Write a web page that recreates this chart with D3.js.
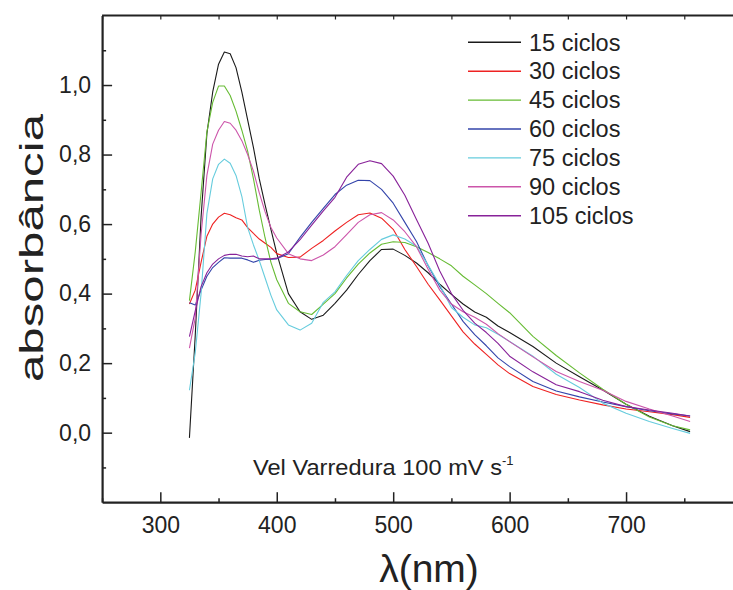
<!DOCTYPE html>
<html>
<head>
<meta charset="utf-8">
<script src="https://cdn.jsdelivr.net/npm/d3@7"></script>
<style>
  html, body { margin: 0; padding: 0; background: #fff; }
  svg { display: block; font-family: "Liberation Sans", Arial, Helvetica, sans-serif; }
</style>
</head>
<body>
<svg id="chart" width="733" height="590"></svg>
<script>
// ---- data ----
const wavelengths = [325,330,335,340,345,350,355,360,365,370,375,380,385,390,395,400,410,420,430,440,450,460,470,480,490,500,510,520,530,540,550,560,570,580,590,600,620,640,660,680,700,720,740,755];

const ciclos15  = [-0.015,0.28,0.62,0.86,0.98,1.06,1.095,1.09,1.05,0.98,0.90,0.82,0.73,0.655,0.585,0.516,0.40,0.348,0.326,0.338,0.372,0.41,0.455,0.495,0.527,0.528,0.51,0.488,0.46,0.427,0.398,0.37,0.347,0.332,0.307,0.288,0.248,0.200,0.161,0.123,0.082,0.047,0.02,0.003];
const ciclos30  = [0.37,0.41,0.49,0.565,0.60,0.62,0.631,0.627,0.618,0.612,0.59,0.573,0.557,0.545,0.533,0.515,0.504,0.505,0.53,0.553,0.58,0.605,0.627,0.632,0.617,0.585,0.527,0.478,0.427,0.382,0.336,0.29,0.255,0.225,0.195,0.17,0.133,0.11,0.094,0.08,0.068,0.06,0.052,0.044];
const ciclos45  = [0.38,0.52,0.69,0.865,0.95,0.997,0.997,0.97,0.925,0.87,0.81,0.73,0.64,0.56,0.49,0.44,0.372,0.348,0.34,0.37,0.40,0.445,0.485,0.517,0.542,0.549,0.547,0.535,0.518,0.50,0.48,0.45,0.425,0.40,0.372,0.345,0.277,0.222,0.172,0.125,0.082,0.045,0.02,0.008];
const ciclos60  = [0.374,0.367,0.41,0.45,0.475,0.49,0.503,0.502,0.502,0.502,0.497,0.49,0.496,0.498,0.499,0.50,0.515,0.562,0.605,0.645,0.685,0.712,0.726,0.725,0.70,0.66,0.605,0.55,0.48,0.42,0.37,0.32,0.282,0.25,0.215,0.19,0.147,0.12,0.103,0.088,0.075,0.063,0.054,0.048];
const ciclos75  = [0.122,0.23,0.40,0.63,0.73,0.772,0.787,0.775,0.74,0.68,0.59,0.54,0.495,0.445,0.395,0.353,0.31,0.295,0.315,0.375,0.405,0.452,0.495,0.527,0.556,0.569,0.557,0.536,0.482,0.425,0.36,0.332,0.31,0.302,0.283,0.262,0.22,0.168,0.13,0.085,0.056,0.032,0.012,-0.002];
const ciclos90  = [0.243,0.33,0.57,0.74,0.83,0.87,0.895,0.89,0.87,0.84,0.80,0.752,0.69,0.635,0.59,0.56,0.515,0.50,0.495,0.511,0.535,0.57,0.605,0.627,0.633,0.612,0.578,0.535,0.47,0.41,0.37,0.348,0.332,0.312,0.285,0.262,0.218,0.176,0.147,0.122,0.09,0.068,0.048,0.032];
const ciclos105 = [0.276,0.35,0.42,0.46,0.485,0.50,0.51,0.513,0.513,0.508,0.506,0.508,0.50,0.50,0.50,0.502,0.52,0.555,0.597,0.638,0.677,0.735,0.772,0.782,0.774,0.738,0.683,0.613,0.545,0.465,0.40,0.352,0.315,0.288,0.257,0.22,0.175,0.138,0.118,0.093,0.075,0.065,0.056,0.048];

const seriesNames  = ["15 ciclos","30 ciclos","45 ciclos","60 ciclos","75 ciclos","90 ciclos","105 ciclos"];
const seriesValues = [ciclos15, ciclos30, ciclos45, ciclos60, ciclos75, ciclos90, ciclos105];
const seriesColors = ["#1a1a1a","#ee2222","#66bb33","#3344aa","#66ccdd","#cc55aa","#882299"];

const xMajorTicks = [300,400,500,600,700];
const yMajorTicks = [0,0.2,0.4,0.6,0.8,1.0];

// ---- layout ----
const svg = d3.select("#chart");
const x = d3.scaleLinear().domain([250, 800]).range([102.1, 742.5]);
const y = d3.scaleLinear().domain([-0.2, 1.2]).range([502.2, 15.5]);
const axisColor = "#222";

// lines
const line = d3.line().x(d => x(d[0])).y(d => y(d[1]));
seriesValues.forEach((vals, i) => {
  svg.append("path")
    .datum(wavelengths.map((w, j) => [w, vals[j]]))
    .attr("d", line)
    .attr("fill", "none")
    .attr("stroke", seriesColors[i])
    .attr("stroke-width", 1.1)
    .attr("stroke-linejoin", "round");
});

// minor ticks x (bottom & top)
const xMinor = d3.range(250, 801, 50);
svg.append("g").attr("transform", `translate(0,${y(-0.2)})`)
  .call(d3.axisBottom(x).tickValues(xMinor.filter(v => v % 100 !== 0)).tickSize(-4).tickFormat(""))
  .call(g => g.select(".domain").remove())
  .call(g => g.selectAll("line").attr("stroke", axisColor).attr("stroke-width", 1.5));
svg.append("g").attr("transform", `translate(0,${y(1.2)})`)
  .call(d3.axisTop(x).tickValues(xMinor).tickSize(-4).tickFormat(""))
  .call(g => g.select(".domain").remove())
  .call(g => g.selectAll("line").attr("stroke", axisColor).attr("stroke-width", 1.2));

// minor ticks y
const yMinor = d3.range(-1, 12).map(v => v / 10).filter(v => Math.round(v * 10) % 2 !== 0);
svg.append("g").attr("transform", `translate(${x(250)},0)`)
  .call(d3.axisLeft(y).tickValues(yMinor).tickSize(-4).tickFormat(""))
  .call(g => g.select(".domain").remove())
  .call(g => g.selectAll("line").attr("stroke", axisColor).attr("stroke-width", 1.5));

// bottom axis
const xAxis = svg.append("g").attr("transform", `translate(0,${y(-0.2)})`)
  .call(d3.axisBottom(x).tickValues(xMajorTicks).tickSizeInner(-10).tickSizeOuter(0).tickPadding(14).tickFormat(d3.format("d")));
xAxis.select(".domain").attr("stroke", axisColor).attr("stroke-width", 2.2);
xAxis.selectAll("line").attr("stroke", axisColor).attr("stroke-width", 1.5);
xAxis.selectAll("text").attr("font-size", 23).attr("fill", "#222")
  .attr("font-family", "Liberation Sans, Arial, sans-serif");

// left axis
const yAxis = svg.append("g").attr("transform", `translate(${x(250)},0)`)
  .call(d3.axisLeft(y).tickValues(yMajorTicks).tickSizeInner(-10).tickSizeOuter(0).tickPadding(11)
    .tickFormat(d => d3.format(".1f")(d).replace(".", ",")));
yAxis.select(".domain").attr("stroke", axisColor).attr("stroke-width", 2.2);
yAxis.selectAll("line").attr("stroke", axisColor).attr("stroke-width", 1.5);
yAxis.selectAll("text").attr("font-size", 23).attr("fill", "#222")
  .attr("font-family", "Liberation Sans, Arial, sans-serif");

// top frame line
svg.append("line")
  .attr("x1", x(250)).attr("x2", x(800))
  .attr("y1", y(1.2)).attr("y2", y(1.2))
  .attr("stroke", axisColor).attr("stroke-width", 2.2);

// axis titles
svg.append("text")
  .attr("x", 429).attr("y", 582)
  .attr("text-anchor", "middle")
  .attr("font-size", 39).attr("fill", "#222")
  .text("λ(nm)");

svg.append("text")
  .attr("transform", "translate(43,248) rotate(-90)")
  .attr("text-anchor", "middle")
  .attr("font-size", 34).attr("fill", "#222")
  .attr("textLength", 268).attr("lengthAdjust", "spacingAndGlyphs")
  .text("absorbância");

// annotation
const ann = svg.append("text")
  .attr("x", 253).attr("y", 475)
  .attr("font-size", 22).attr("fill", "#222");
ann.append("tspan").attr("textLength", 249).attr("lengthAdjust", "spacingAndGlyphs").text("Vel Varredura 100 mV s");
ann.append("tspan").attr("font-size", 13).attr("dy", -10).text("-1");

// legend
const legend = svg.append("g");
seriesNames.forEach((name, i) => {
  const cy = 42.3 + i * 28.9;
  legend.append("line")
    .attr("x1", 468).attr("x2", 521)
    .attr("y1", cy).attr("y2", cy)
    .attr("stroke", seriesColors[i]).attr("stroke-width", 1.4);
  legend.append("text")
    .attr("x", 529).attr("y", cy).attr("dy", "0.35em")
    .attr("font-size", 23.5).attr("fill", "#222")
    .text(name);
});
</script>
</body>
</html>
